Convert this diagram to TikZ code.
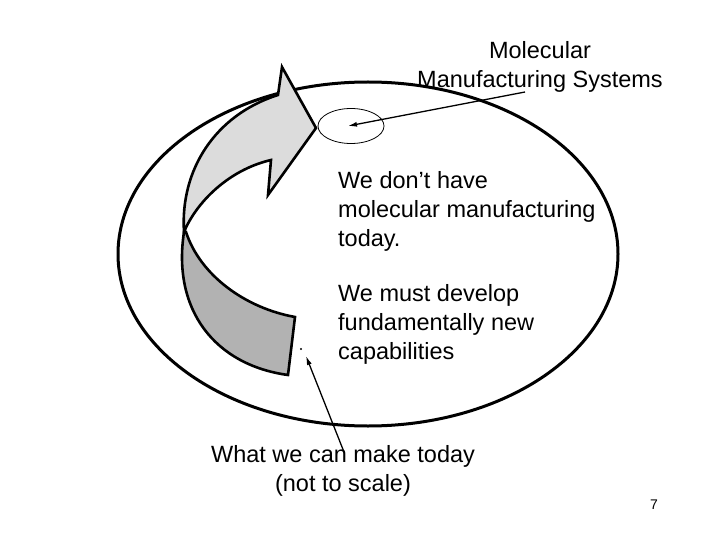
\documentclass[tikz,border=0pt]{standalone}
\usepackage{fontspec}
\setmainfont{Liberation Sans}
\usetikzlibrary{shapes.geometric,arrows.meta}
\definecolor{lightpart}{HTML}{DCDCDC}
\definecolor{darkpart}{HTML}{B2B2B2}
\tikzset{
  bigring/.style={line width=3pt},
  ribbon/.style={line width=2.6pt, line join=miter},
  pointer/.style={line width=1.3pt, -{Latex[length=9pt,width=5pt]}},
  txt/.style={inner sep=0pt, font=\fontsize{23.5}{29}\selectfont},
}
\begin{document}
\begin{tikzpicture}[x=1pt,y=-1pt]
\useasboundingbox (0,0) rectangle (720,540);
% big ellipse
\draw[bigring] (368,254) ellipse [x radius=250pt, y radius=172pt];
% lower (dark) part of the curved arrow
\path[fill=darkpart, draw=black, ribbon]
  (184,232) .. controls (172,310) and (215,365) .. (288,375)
  -- (295,317)
  .. controls (245,308) and (200,275) .. (186,232) -- cycle;
% upper (light) part of the curved arrow
\path[fill=lightpart, draw=black, ribbon]
  (184,232) .. controls (180,170) and (215,115) .. (278,95)
  -- (282,67) -- (316,128) -- (268,195) -- (271,160)
  .. controls (228,170) and (196,203) .. (184,232) -- cycle;
% small target ellipse
\node[draw, ellipse, line width=0.8pt, minimum width=66pt, minimum height=35pt, inner sep=0pt] (target) at (351,126) {};
\coordinate (targettip) at (348,126);
\coordinate (molstart) at (525,92);
\coordinate (todaytip) at (306,356);
\coordinate (todaystart) at (344,452);
\fill (301,349) circle (1.2pt) coordinate (dot);
% texts
\node[txt, align=center, anchor=north] (mol) at (540,41) {Molecular\\Manufacturing Systems};
\node[txt, align=left, anchor=north west] (nothave) at (338,171) {We don’t have\\molecular manufacturing\\today.};
\node[txt, align=left, anchor=north west] (develop) at (338,284) {We must develop\\fundamentally new\\capabilities};
\node[txt, align=center, anchor=north] (today) at (343,445) {What we can make today\\(not to scale)};
\node[inner sep=0pt, font=\fontsize{14}{16}\selectfont, anchor=base] (page) at (654,509) {7};
% pointers
\draw[pointer] (molstart) -- (targettip);
\draw[pointer] (todaystart) -- (todaytip);
\end{tikzpicture}
\end{document}
